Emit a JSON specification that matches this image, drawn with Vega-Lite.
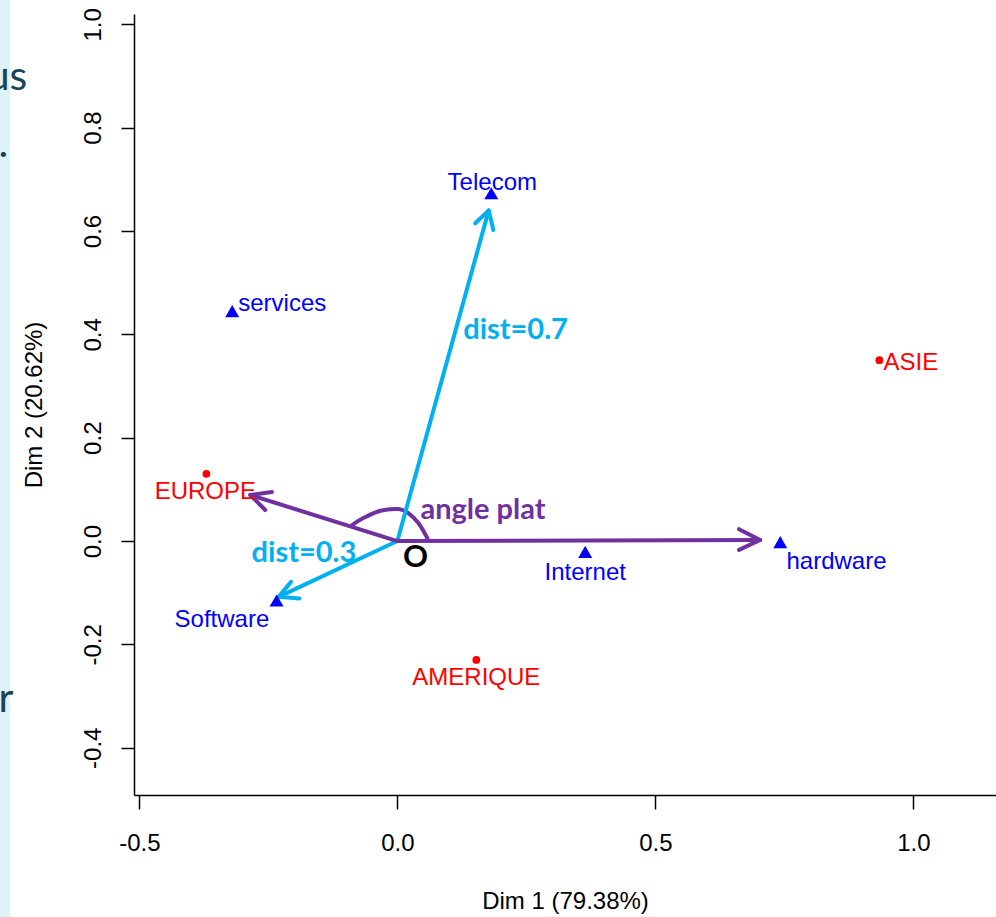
{
  "$schema": "https://vega.github.io/schema/vega-lite/v6.json",
  "width": 862,
  "height": 781,
  "autosize": {"type": "none"},
  "padding": {"left": 134, "top": 14, "right": 0, "bottom": 122},
  "background": "white",
  "config": {"view": {"stroke": null}},
  "resolve": {"scale": {"color": "independent"}},
  "datasets": {
    "strip": [{"x": -0.77, "x2": -0.75, "y": 1.05, "y2": -0.73}],
    "slide": [
      {"t": "us", "x": -0.717, "y": 0.873},
      {"t": ".", "x": -0.754, "y": 0.743},
      {"t": "r", "x": -0.744, "y": -0.331}
    ],
    "rows": [
      {"name": "EUROPE", "x": -0.370, "y": 0.130},
      {"name": "ASIE", "x": 0.934, "y": 0.350},
      {"name": "AMERIQUE", "x": 0.153, "y": -0.230}
    ],
    "cols": [
      {"name": "Telecom", "x": 0.182, "y": 0.673},
      {"name": "services", "x": -0.320, "y": 0.445},
      {"name": "Software", "x": -0.234, "y": -0.115},
      {"name": "Internet", "x": 0.364, "y": -0.021},
      {"name": "hardware", "x": 0.742, "y": -0.002}
    ],
    "labels": [
      {"t": "EUROPE", "c": "row", "x": -0.372, "y": 0.095},
      {"t": "ASIE", "c": "row", "x": 0.995, "y": 0.345},
      {"t": "AMERIQUE", "c": "row", "x": 0.153, "y": -0.265},
      {"t": "Telecom", "c": "col", "x": 0.184, "y": 0.693},
      {"t": "services", "c": "col", "x": -0.223, "y": 0.459},
      {"t": "Software", "c": "col", "x": -0.340, "y": -0.153},
      {"t": "Internet", "c": "col", "x": 0.364, "y": -0.062},
      {"t": "hardware", "c": "col", "x": 0.851, "y": -0.041}
    ],
    "arrows": [
      {"g": "tel", "k": "blue", "i": 1, "x": 0, "y": 0},
      {"g": "tel", "k": "blue", "i": 2, "x": 0.177, "y": 0.640},
      {"g": "telh", "k": "blue", "i": 1, "x": 0.151, "y": 0.615},
      {"g": "telh", "k": "blue", "i": 2, "x": 0.177, "y": 0.640},
      {"g": "telh", "k": "blue", "i": 3, "x": 0.186, "y": 0.602},
      {"g": "sof", "k": "blue", "i": 1, "x": 0, "y": 0},
      {"g": "sof", "k": "blue", "i": 2, "x": -0.230, "y": -0.108},
      {"g": "sofh", "k": "blue", "i": 1, "x": -0.206, "y": -0.079},
      {"g": "sofh", "k": "blue", "i": 2, "x": -0.230, "y": -0.108},
      {"g": "sofh", "k": "blue", "i": 3, "x": -0.190, "y": -0.111},
      {"g": "eur", "k": "purple", "i": 1, "x": 0, "y": 0},
      {"g": "eur", "k": "purple", "i": 2, "x": -0.285, "y": 0.089},
      {"g": "eurh", "k": "purple", "i": 1, "x": -0.243, "y": 0.095},
      {"g": "eurh", "k": "purple", "i": 2, "x": -0.285, "y": 0.089},
      {"g": "eurh", "k": "purple", "i": 3, "x": -0.256, "y": 0.060},
      {"g": "hw", "k": "purple", "i": 1, "x": 0, "y": 0},
      {"g": "hw", "k": "purple", "i": 2, "x": 0.703, "y": 0.002},
      {"g": "hwh", "k": "purple", "i": 1, "x": 0.662, "y": 0.023},
      {"g": "hwh", "k": "purple", "i": 2, "x": 0.703, "y": 0.002},
      {"g": "hwh", "k": "purple", "i": 3, "x": 0.662, "y": -0.017}
    ],
    "arc": [
      {"i": 1, "x": -0.0878, "y": 0.031},
      {"i": 2, "x": -0.0659, "y": 0.0445},
      {"i": 3, "x": -0.0329, "y": 0.0586},
      {"i": 4, "x": 0.0019, "y": 0.0619},
      {"i": 5, "x": 0.0213, "y": 0.0542},
      {"i": 6, "x": 0.0407, "y": 0.0348},
      {"i": 7, "x": 0.0581, "y": 0.0058}
    ],
    "notes": [
      {"t": "angle plat", "k": "purple", "x": 0.166, "y": 0.060},
      {"t": "dist=0.7", "k": "blue", "x": 0.229, "y": 0.408},
      {"t": "dist=0.3", "k": "blue", "x": -0.181, "y": -0.023}
    ],
    "origin": [{"t": "O", "x": 0.035, "y": -0.033}]
  },
  "layer": [
    {
      "data": {"name": "strip"},
      "mark": {"type": "rect", "color": "#ddf3f8"},
      "encoding": {
        "x": {
          "field": "x", "type": "quantitative",
          "scale": {"domain": [-0.5103, 1.160], "nice": false, "zero": false},
          "axis": {
            "title": "Dim 1 (79.38%)",
            "values": [-0.5, 0, 0.5, 1],
            "labelExpr": "datum.value < 0 ? '-' + format(-datum.value, '.1f') : format(datum.value, '.1f')",
            "grid": false, "domainColor": "black", "domainWidth": 1.5,
            "tickColor": "black", "tickWidth": 1.5, "tickSize": 14,
            "labelFont": "Liberation Sans", "labelFontSize": 24, "labelColor": "black",
            "labelPadding": 22, "labelFlush": false, "labelOverlap": false,
            "titleFont": "Liberation Sans", "titleFontSize": 24, "titleFontWeight": "normal",
            "titleColor": "black", "titlePadding": 34
          }
        },
        "x2": {"field": "x2"},
        "y": {
          "field": "y", "type": "quantitative",
          "scale": {"domain": [-0.4915, 1.020], "nice": false, "zero": false},
          "axis": {
            "title": "Dim 2 (20.62%)",
            "values": [-0.4, -0.2, 0, 0.2, 0.4, 0.6, 0.8, 1],
            "labelExpr": "datum.value < 0 ? '-' + format(-datum.value, '.1f') : format(datum.value, '.1f')",
            "grid": false, "domainColor": "black", "domainWidth": 1.5,
            "tickColor": "black", "tickWidth": 1.5, "tickSize": 13,
            "labelFont": "Liberation Sans", "labelFontSize": 24, "labelColor": "black",
            "labelAngle": 270, "labelAlign": "center", "labelBaseline": "alphabetic",
            "labelPadding": 21, "labelFlush": false, "labelOverlap": false,
            "titleFont": "Liberation Sans", "titleFontSize": 24, "titleFontWeight": "normal",
            "titleColor": "black", "titlePadding": 35
          }
        },
        "y2": {"field": "y2"}
      }
    },
    {
      "data": {"name": "slide"},
      "mark": {"type": "text", "align": "right", "baseline": "alphabetic", "font": "Lato", "fontSize": 41, "color": "#1b4358"},
      "encoding": {
        "x": {"field": "x", "type": "quantitative", "scale": {"domain": [-0.5103, 1.160], "nice": false, "zero": false}},
        "y": {"field": "y", "type": "quantitative", "scale": {"domain": [-0.4915, 1.020], "nice": false, "zero": false}},
        "text": {"field": "t"}
      }
    },
    {
      "mark": {"type": "rule", "color": "black", "strokeWidth": 1.3, "strokeDash": [6, 4]},
      "encoding": {"x": {"datum": 0, "type": "quantitative"}}
    },
    {
      "mark": {"type": "rule", "color": "black", "strokeWidth": 1.3, "strokeDash": [6, 4]},
      "encoding": {"y": {"datum": 0, "type": "quantitative"}}
    },
    {
      "mark": {"type": "rule", "color": "black", "strokeWidth": 1.5},
      "encoding": {"y": {"datum": 1.020, "type": "quantitative"}}
    },
    {
      "data": {"name": "arc"},
      "mark": {"type": "line", "interpolate": "cardinal", "color": "#7030a0", "strokeWidth": 4, "strokeCap": "round"},
      "encoding": {
        "x": {"field": "x", "type": "quantitative", "scale": {"domain": [-0.5103, 1.160], "nice": false, "zero": false}},
        "y": {"field": "y", "type": "quantitative", "scale": {"domain": [-0.4915, 1.020], "nice": false, "zero": false}},
        "order": {"field": "i"}
      }
    },
    {
      "data": {"name": "arrows"},
      "mark": {"type": "line", "strokeWidth": 4, "strokeCap": "round", "strokeJoin": "round"},
      "encoding": {
        "x": {"field": "x", "type": "quantitative", "scale": {"domain": [-0.5103, 1.160], "nice": false, "zero": false}},
        "y": {"field": "y", "type": "quantitative", "scale": {"domain": [-0.4915, 1.020], "nice": false, "zero": false}},
        "detail": {"field": "g"},
        "order": {"field": "i"},
        "color": {"field": "k", "type": "nominal", "scale": {"domain": ["blue", "purple"], "range": ["#00b0f0", "#7030a0"]}, "legend": null}
      }
    },
    {
      "data": {"name": "rows"},
      "mark": {"type": "point", "shape": "circle", "filled": true, "size": 60, "color": "#ff0000", "opacity": 1},
      "encoding": {
        "x": {"field": "x", "type": "quantitative", "scale": {"domain": [-0.5103, 1.160], "nice": false, "zero": false}},
        "y": {"field": "y", "type": "quantitative", "scale": {"domain": [-0.4915, 1.020], "nice": false, "zero": false}}
      }
    },
    {
      "data": {"name": "cols"},
      "mark": {"type": "point", "shape": "triangle-up", "filled": true, "size": 196, "color": "#0000ff", "opacity": 1},
      "encoding": {
        "x": {"field": "x", "type": "quantitative", "scale": {"domain": [-0.5103, 1.160], "nice": false, "zero": false}},
        "y": {"field": "y", "type": "quantitative", "scale": {"domain": [-0.4915, 1.020], "nice": false, "zero": false}}
      }
    },
    {
      "data": {"name": "labels"},
      "mark": {"type": "text", "font": "Liberation Sans", "fontSize": 24, "align": "center", "baseline": "middle"},
      "encoding": {
        "x": {"field": "x", "type": "quantitative", "scale": {"domain": [-0.5103, 1.160], "nice": false, "zero": false}},
        "y": {"field": "y", "type": "quantitative", "scale": {"domain": [-0.4915, 1.020], "nice": false, "zero": false}},
        "text": {"field": "t"},
        "color": {"field": "c", "type": "nominal", "scale": {"domain": ["row", "col"], "range": ["#ff0000", "#0000ff"]}, "legend": null}
      }
    },
    {
      "data": {"name": "notes"},
      "mark": {"type": "text", "font": "Lato", "fontWeight": "bold", "fontSize": 29, "align": "center", "baseline": "middle"},
      "encoding": {
        "x": {"field": "x", "type": "quantitative", "scale": {"domain": [-0.5103, 1.160], "nice": false, "zero": false}},
        "y": {"field": "y", "type": "quantitative", "scale": {"domain": [-0.4915, 1.020], "nice": false, "zero": false}},
        "text": {"field": "t"},
        "color": {"field": "k", "type": "nominal", "scale": {"domain": ["blue", "purple"], "range": ["#00b0f0", "#7030a0"]}, "legend": null}
      }
    },
    {
      "data": {"name": "origin"},
      "mark": {"type": "text", "font": "Lato", "fontWeight": "bold", "fontSize": 31, "align": "center", "baseline": "middle", "color": "black"},
      "encoding": {
        "x": {"field": "x", "type": "quantitative", "scale": {"domain": [-0.5103, 1.160], "nice": false, "zero": false}},
        "y": {"field": "y", "type": "quantitative", "scale": {"domain": [-0.4915, 1.020], "nice": false, "zero": false}},
        "text": {"field": "t"}
      }
    }
  ]
}
